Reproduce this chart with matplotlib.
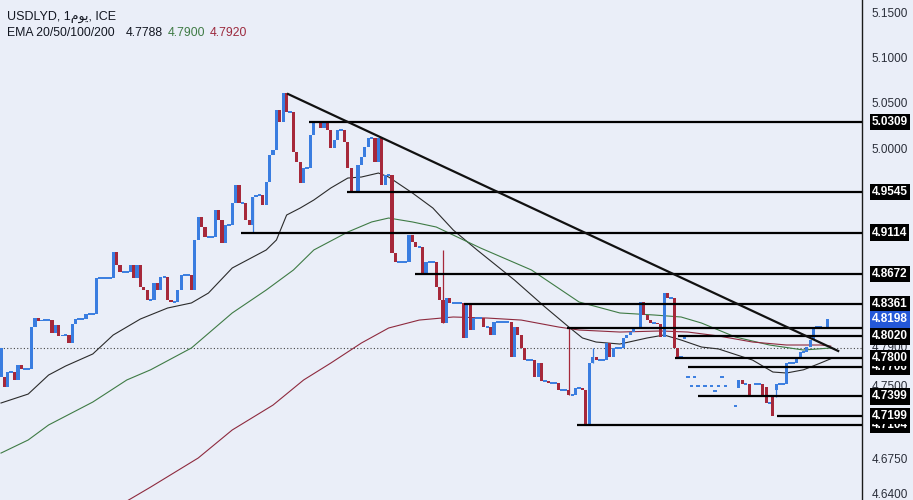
import matplotlib

matplotlib.use("Agg")
import matplotlib.pyplot as plt  # noqa: E402
from matplotlib.ticker import NullLocator  # noqa: E402

plt.rcParams["font.family"] = ["Liberation Sans", "DejaVu Sans"]

# ---------------------------------------------------------------------------
# Data (daily USDLYD closes, bar index 0 = first visible bar)
# ---------------------------------------------------------------------------
closes = [
    4.7900, 4.7496, 4.7651, 4.7651, 4.7569, 4.7723, 4.7682, 4.7682, 4.7682, 4.8118,
    4.8212, 4.8181, 4.8191, 4.8191, 4.8191, 4.8056, 4.8139, 4.8025, 4.8035, 4.8035,
    4.7952, 4.8150, 4.8202, 4.8202, 4.8202, 4.8254, 4.8254, 4.8254, 4.8632, 4.8632,
    4.8632, 4.8632, 4.8632, 4.8907, 4.8770, 4.8696, 4.8696, 4.8696, 4.8770, 4.8632,
    4.8770, 4.8537, 4.8506, 4.8401, 4.8401, 4.8580, 4.8506, 4.8643, 4.8643, 4.8401,
    4.8380, 4.8380, 4.8506, 4.8664, 4.8664, 4.8664, 4.8506, 4.9035, 4.9280, 4.9173,
    4.9067, 4.9067, 4.9067, 4.9355, 4.9248, 4.9003, 4.9195, 4.9195, 4.9430, 4.9623,
    4.9430, 4.9430, 4.9248, 4.9195, 4.9494, 4.9516, 4.9516, 4.9408, 4.9655, 4.9947,
    5.0001, 5.0437, 5.0305, 5.0623, 5.0415, 5.0415, 4.9979, 4.9871, 4.9645, 4.9806,
    4.9806, 5.0164, 5.0305, 5.0305, 5.0240, 5.0305, 5.0218, 5.0023, 5.0110, 5.0218,
    5.0218, 5.0088, 4.9806, 4.9548, 4.9548, 4.9839, 4.9925, 5.0034, 5.0131, 5.0131,
    4.9871, 5.0131, 4.9623, 4.9731, 4.9731, 4.8897, 4.8801, 4.8801, 4.8801, 4.8801,
    4.9088, 4.9013, 4.8960, 4.8960, 4.8685, 4.8801, 4.8801, 4.8801, 4.8537, 4.8401,
    4.8160, 4.8422, 4.8370, 4.8370, 4.8370, 4.8370, 4.8004, 4.8370, 4.8087, 4.8212,
    4.8212, 4.8212, 4.8118, 4.8118, 4.8035, 4.8170, 4.8170, 4.8170, 4.8170, 4.8170,
    4.7806, 4.8118, 4.8035, 4.7900, 4.7775, 4.7775, 4.7775, 4.7600, 4.7744, 4.7558,
    4.7558, 4.7538, 4.7538, 4.7538, 4.7466, 4.7466, 4.7466, 4.7414, 4.7414, 4.7486,
    4.7486, 4.7466, 4.7104, 4.7744, 4.7806, 4.7775, 4.7775, 4.7775, 4.7952, 4.7806,
    4.7900, 4.7900, 4.7900, 4.8004, 4.8035, 4.8066, 4.8108, 4.8108, 4.8380, 4.8244,
    4.8191, 4.8160, 4.8160, 4.8150, 4.8014, 4.8474, 4.8422, 4.8422, 4.7900, 4.7806,
    4.7806, 4.8004, 4.7600, 4.7507, 4.7600, 4.7507, 4.7703, 4.7507, 4.7404, 4.7507,
    4.7455, 4.7507, 4.7600, 4.7507, 4.7703, 4.7404, 4.7301, 4.7569, 4.7527, 4.7527,
    4.7399, 4.7399, 4.7527, 4.7527, 4.7399, 4.7332, 4.7332, 4.7199, 4.7527, 4.7527,
    4.7527, 4.7744, 4.7744, 4.7744, 4.7806, 4.7858, 4.7858, 4.7910, 4.7983, 4.8118,
    4.8118, 4.8118, 4.8108, 4.8198,
]
# bars whose open is not the previous close (gaps and isolated flat prints)
open_fix = {
    0: 4.7600, 1: 4.7600, 201: 4.8004, 202: 4.7600, 203: 4.7507, 204: 4.7600,
    205: 4.7507, 206: 4.7703, 207: 4.7507, 208: 4.7404, 209: 4.7507, 210: 4.7455,
    211: 4.7507, 212: 4.7600, 213: 4.7507, 214: 4.7703, 215: 4.7404, 216: 4.7301,
    217: 4.7486, 222: 4.7527, 225: 4.7496, 227: 4.7399, 228: 4.7466,
}
high_fix = {130: 4.8929, 167: 4.8108, 174: 4.7900}
low_fix = {74: 4.9114, 228: 4.7393}

# EMA traces (bar index, price)
ema_fast_idx = [0, 8, 14, 19, 27, 33, 41, 49, 56, 61, 68, 78, 81, 84, 88, 92, 97,
                102, 106, 111, 114, 121, 127, 133, 140, 151, 160, 167, 171, 175,
                182, 190, 195, 200, 206, 211, 221, 227, 231, 236, 241, 244]
ema_fast = [4.7332, 4.7424, 4.7620, 4.7713, 4.7838, 4.8035, 4.8202, 4.8317, 4.8370,
            4.8474, 4.8738, 4.8929, 4.9035, 4.9301, 4.9376, 4.9462, 4.9591, 4.9698,
            4.9709, 4.9752, 4.9709, 4.9537, 4.9376, 4.9141, 4.8929, 4.8611, 4.8327,
            4.8118, 4.8004, 4.7962, 4.7941, 4.8004, 4.8035, 4.7983, 4.7910, 4.7890,
            4.7775, 4.7651, 4.7641, 4.7674, 4.7744, 4.7788]
ema_mid_idx = [0, 8, 14, 27, 37, 44, 56, 68, 78, 86, 92, 102, 109, 114, 121, 128,
               141, 156, 170, 182, 192, 200, 206, 216, 226, 236, 244]
ema_mid = [4.6821, 4.6954, 4.7107, 4.7342, 4.7569, 4.7674, 4.7900, 4.8265, 4.8506,
           4.8717, 4.8929, 4.9120, 4.9227, 4.9269, 4.9227, 4.9173, 4.8950, 4.8717,
           4.8380, 4.8265, 4.8244, 4.8223, 4.8160, 4.8014, 4.7931, 4.7879, 4.7900]
ema_slow_idx = [35, 44, 58, 68, 80, 89, 97, 106, 114, 123, 133, 143, 153, 164, 170,
                182, 194, 202, 211, 221, 231, 241, 244]
ema_slow = [4.6296, 4.6477, 4.6771, 4.7056, 4.7311, 4.7569, 4.7744, 4.7952, 4.8108,
            4.8191, 4.8223, 4.8212, 4.8191, 4.8118, 4.8087, 4.8066, 4.8077, 4.8066,
            4.8025, 4.7962, 4.7931, 4.7931, 4.7920]

# drawn support / resistance levels (price, bar where the line starts)
level_prices = [5.0309, 4.9545, 4.9114, 4.8672, 4.8361, 4.8108, 4.8020, 4.7800,
                4.7706, 4.7399, 4.7199, 4.7104]
level_start = [90.5, 101.8, 70.6, 121.8, 136.2, 166.5, 199.1, 198.2, 202.0, 205.0,
               228.2, 169.4]
# axis tags, listed in drawing order (later ones cover earlier ones)
tag_prices = [5.0309, 4.9545, 4.9114, 4.8672, 4.8361, 4.7706, 4.7800, 4.7104,
              4.7199, 4.7399, 4.8020]
last_price = 4.8198
ref_line_price = 4.7900
trend_idx = [84.4, 246.2]
trend_price = [5.0612, 4.7869]

tick_values = [5.15, 5.10, 5.05, 5.00, 4.79, 4.75, 4.675, 4.64]

BG = "#eaeef8"
BLUE = "#3a7de0"
RED = "#a6283a"

fig = plt.figure(figsize=(9.13, 5.0), dpi=100, facecolor=BG)
ax = fig.add_axes([0, 0, 862 / 913, 1])
ax.set_facecolor(BG)
ax.set_yscale("log")
ax.set_ylim(4.6347, 5.1654)
ax.set_xlim(-0.29, 253.2)
ax.yaxis.set_major_locator(NullLocator())
ax.yaxis.set_minor_locator(NullLocator())
ax.set_xticks([])
for side in ("left", "top", "bottom"):
    ax.spines[side].set_visible(False)
ax.spines["right"].set_color("#1a1a1a")
ax.spines["right"].set_linewidth(1.0)

# --- price bars ---
n = len(closes)
opens = [open_fix.get(i, closes[i - 1] if i else closes[0]) for i in range(n)]
for i in range(n):
    o, c = opens[i], closes[i]
    col = BLUE if c >= o else RED
    if i in high_fix or i in low_fix:
        ax.vlines(i, low_fix.get(i, min(o, c)), high_fix.get(i, max(o, c)),
                  color=col, lw=0.9, zorder=3)
    if o == c:
        ax.hlines(c, i - 0.5, i + 0.5, color=BLUE, lw=1.4, zorder=3)
    else:
        ax.bar(i, abs(c - o), bottom=min(o, c), width=0.92, color=col,
               linewidth=0, zorder=3)

# --- EMAs ---
ax.plot(ema_fast_idx, ema_fast, color="#2b2b2b", lw=0.8, zorder=2)
ax.plot(ema_mid_idx, ema_mid, color="#3f7b45", lw=0.8, zorder=2)
ax.plot(ema_slow_idx, ema_slow, color="#8e2a3e", lw=0.8, zorder=2)

# --- drawings ---
ax.axhline(ref_line_price, color="#444444", lw=0.8, ls=(0, (1, 2)), zorder=1)
for p, s in zip(level_prices, level_start):
    ax.hlines(p, s, 253.2, color="black", lw=1.6, zorder=4)
ax.plot(trend_idx, trend_price, color="#111111", lw=1.6, zorder=4)

# --- right price scale ---
tr = ax.get_yaxis_transform()
for v in tick_values:
    ax.text(1.0115, v, f"{v:.4f}", transform=tr, ha="left", va="center",
            fontsize=8.5, color="#2a2e39", clip_on=False, zorder=5)
for k, v in enumerate(tag_prices):
    ax.text(1.0115, v, f"{v:.4f}", transform=tr, ha="left", va="center",
            fontsize=8.5, color="white", fontweight="bold", clip_on=False,
            zorder=6 + k * 0.01,
            bbox=dict(boxstyle="square,pad=0.18", fc="black", ec="none"))
ax.text(1.0115, last_price, f"{last_price:.4f}", transform=tr, ha="left",
        va="center", fontsize=8.5, color="white", fontweight="bold",
        clip_on=False, zorder=7,
        bbox=dict(boxstyle="square,pad=0.18", fc="#2458d8", ec="none"))

# --- legend text ---
fig.text(7 / 913, 1 - 17 / 500, "USDLYD, 1\ufee1\ufeee\ufef3, ICE", fontsize=9,
         color="#131722", va="center", ha="left")
fig.text(7 / 913, 1 - 33 / 500, "EMA 20/50/100/200", fontsize=8.8,
         color="#131722", va="center", ha="left")
fig.text(126 / 913, 1 - 33 / 500, "4.7788", fontsize=8.8, color="#131722",
         va="center", ha="left")
fig.text(168 / 913, 1 - 33 / 500, "4.7900", fontsize=8.8, color="#3f7b45",
         va="center", ha="left")
fig.text(210 / 913, 1 - 33 / 500, "4.7920", fontsize=8.8, color="#9c2a3e",
         va="center", ha="left")

fig.savefig("out.png", dpi=100, facecolor=BG)
